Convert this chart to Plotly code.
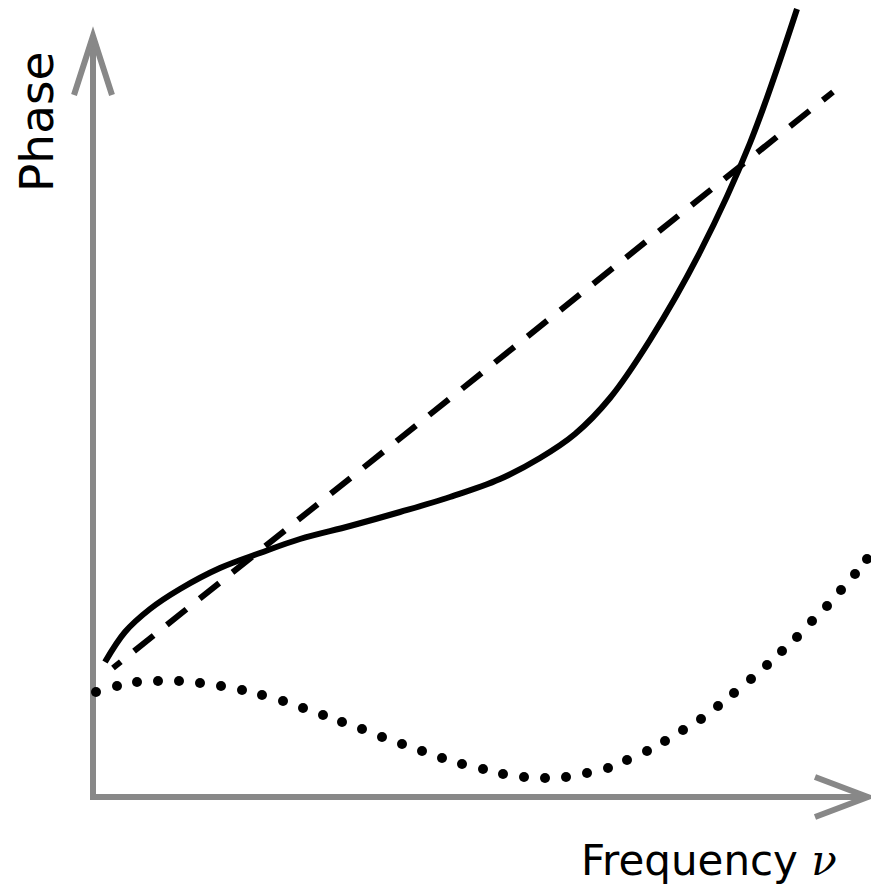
import plotly.graph_objects as go

# Values (arbitrary units, origin at the axes corner)
solid_freq = [12, 32, 57, 87, 127, 167, 207, 257, 307, 357, 407, 447, 482, 517, 557, 607, 657, 704]
solid_phase = [135, 165, 188, 208, 229, 244, 258, 271, 285, 300, 318, 339, 363, 399, 457, 545, 654, 788]

dashed_freq = [20, 740]
dashed_phase = [129, 705]

dotted_freq = [3, 24, 44, 65, 86, 107, 128, 149, 169, 190, 210, 230, 249, 269, 289, 309, 329, 349, 369, 390,
               410, 431, 452, 473, 494, 515, 534, 554, 572, 590, 608, 625, 641, 658, 674, 689, 704, 719, 734,
               748, 762, 774]
dotted_phase = [105, 111, 115, 116, 116, 114, 111, 107, 102, 96, 89, 82, 75, 68, 60, 53, 46, 39, 33, 28,
                23, 20, 19, 20, 24, 29, 37, 46, 56, 67, 78, 91, 104, 118, 132, 146, 160, 176, 191,
                207, 223, 238]

W, H = 871, 895
X0, Y0 = 93, 797  # pixel position of axes corner

fig = go.Figure()

fig.add_trace(go.Scatter(x=solid_freq, y=solid_phase, mode="lines",
                         line=dict(color="black", width=6, shape="spline", smoothing=1.0),
                         hoverinfo="skip"))
dash_pattern = "10px,17px," + ",".join(["25px,17px"] * 30)
fig.add_trace(go.Scatter(x=dashed_freq, y=dashed_phase, mode="lines",
                         line=dict(color="black", width=6, dash=dash_pattern),
                         hoverinfo="skip"))
fig.add_trace(go.Scatter(x=dotted_freq, y=dotted_phase, mode="markers",
                         marker=dict(color="black", size=10, line=dict(width=0)),
                         hoverinfo="skip"))

gray = "#888888"
# axes with a square corner
fig.add_shape(type="path", path="M 0 759 L 0 0 L 773 0",
              line=dict(color=gray, width=6), layer="below")
# arrow heads (open chevrons)
fig.add_shape(type="path", path="M -19 702 L 0 761 L 19 702",
              line=dict(color=gray, width=6), layer="below")
fig.add_shape(type="path", path="M 722 20 L 775 0 L 722 -20",
              line=dict(color=gray, width=6), layer="below")

fig.add_annotation(x=-57, y=797 - 122, xref="x", yref="y", text="Phase", textangle=-90,
                   showarrow=False, xanchor="center", yanchor="middle",
                   font=dict(family="DejaVu Sans", size=47, color="black"))
fig.add_annotation(x=839 - X0, y=Y0 - 860, xref="x", yref="y",
                   text="Frequency <span style='font-family:DejaVu Serif'><i>ν</i></span>",
                   showarrow=False, xanchor="right", yanchor="middle",
                   font=dict(family="DejaVu Sans", size=42, color="black"))

fig.update_layout(
    width=W, height=H, autosize=False,
    margin=dict(l=0, r=0, t=0, b=0, pad=0),
    paper_bgcolor="white", plot_bgcolor="white",
    showlegend=False,
    hovermode=False,
    xaxis=dict(range=[-X0, W - X0], visible=False, fixedrange=True),
    yaxis=dict(range=[-(H - Y0), Y0], visible=False, fixedrange=True),
)

fig.write_html("out.html", config={"displayModeBar": False, "staticPlot": True},
               post_script="document.body.style.margin='0';document.body.style.overflow='hidden';")
